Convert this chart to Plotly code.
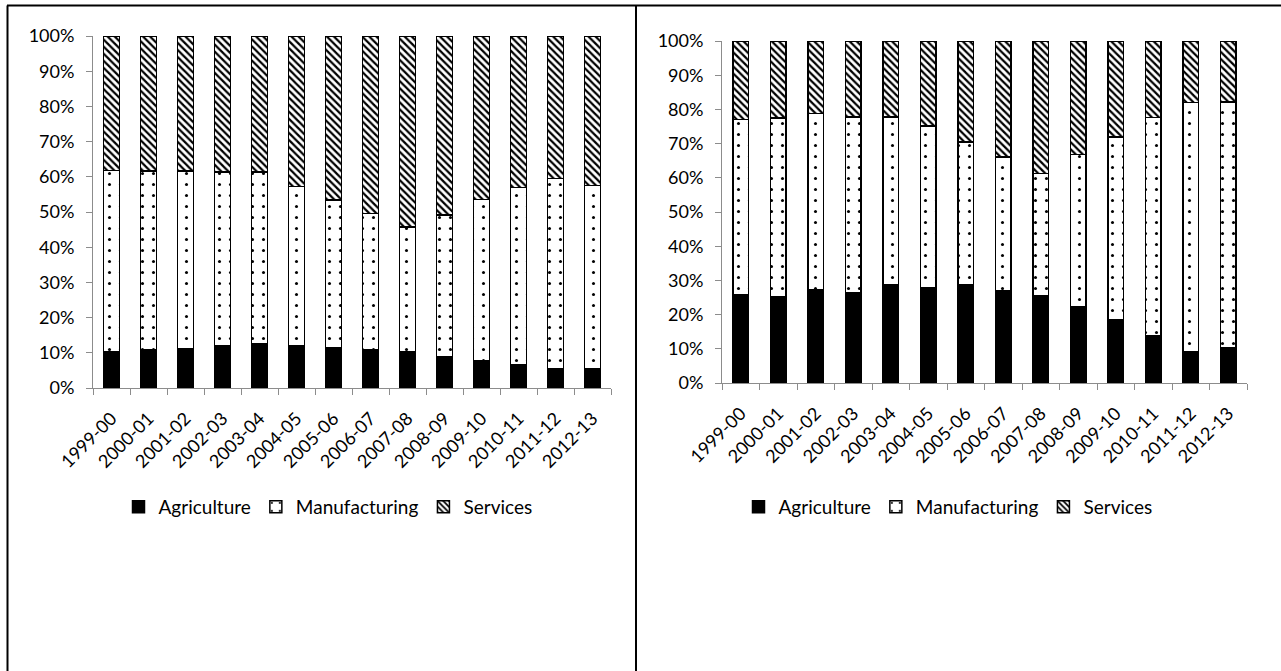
import plotly.graph_objects as go

W, H = 1281, 671

years = ["1999-00", "2000-01", "2001-02", "2002-03", "2003-04", "2004-05", "2005-06",
         "2006-07", "2007-08", "2008-09", "2009-10", "2010-11", "2011-12", "2012-13"]

# Sector shares (%) - left panel
agri_left = [10.3, 10.8, 11.2, 11.9, 12.5, 12.1, 11.5, 10.9, 10.3, 9.0, 7.8, 6.6, 5.4, 5.4]
manu_left = [51.5, 50.9, 50.5, 49.5, 48.9, 45.2, 41.9, 38.7, 35.5, 40.2, 45.7, 50.3, 54.1, 52.1]
serv_left = [38.2, 38.3, 38.3, 38.6, 38.6, 42.7, 46.6, 50.4, 54.2, 50.8, 46.5, 43.1, 40.5, 42.5]

# Sector shares (%) - right panel
agri_right = [25.7, 25.2, 27.4, 26.4, 28.6, 27.9, 28.6, 27.0, 25.4, 22.4, 18.4, 13.9, 9.2, 10.3]
manu_right = [51.4, 52.3, 51.4, 51.4, 49.2, 47.3, 41.8, 39.1, 35.9, 44.4, 53.5, 63.7, 72.8, 71.9]
serv_right = [22.9, 22.5, 21.2, 22.2, 22.2, 24.8, 29.6, 33.9, 38.7, 33.2, 28.1, 22.4, 18.0, 17.8]

sectors = ["Agriculture", "Manufacturing", "Services"]

FONT = "Lato"
AXIS_GREY = "#8c8c8c"

styles = {
    "Agriculture": dict(color="black", pattern=None),
    "Manufacturing": dict(color="white",
                          pattern=dict(shape=".", size=11, solidity=0.06,
                                       fgcolor="black", bgcolor="white", fillmode="replace")),
    "Services": dict(color="white",
                     pattern=dict(shape="\\", size=5, solidity=0.45,
                                  fgcolor="black", bgcolor="white", fillmode="replace")),
}

fig = go.Figure()

panels = [
    ("x", "y", "legend", [agri_left, manu_left, serv_left]),
    ("x2", "y2", "legend2", [agri_right, manu_right, serv_right]),
]

for xa, ya, lg, series in panels:
    for name, vals in zip(sectors, series):
        st = styles[name]
        marker = dict(color=st["color"], line=dict(color="black", width=1.5))
        if st["pattern"] is not None:
            marker["pattern"] = st["pattern"]
        fig.add_trace(go.Bar(
            x=years, y=vals, name=name, marker=marker,
            xaxis=xa, yaxis=ya, legend=lg, hoverinfo="skip",
        ))


def xaxis_style(x0, x1, anchor):
    return dict(
        domain=[x0 / W, x1 / W], anchor=anchor, type="category", automargin=False,
        showgrid=False, zeroline=False, showline=True, linecolor=AXIS_GREY, linewidth=1,
        ticks="outside", tickson="boundaries", ticklen=6, tickcolor=AXIS_GREY,
        tickangle=-45, tickfont=dict(family=FONT, size=18, color="black"),
        ticklabelstandoff=12, fixedrange=True,
    )


def yaxis_style(ybot, ytop, anchor):
    return dict(
        domain=[(H - ybot) / H, (H - ytop) / H], anchor=anchor, automargin=False,
        range=[0, 100], dtick=10, ticksuffix="%",
        showgrid=False, zeroline=False, showline=True, linecolor=AXIS_GREY, linewidth=1,
        ticks="outside", ticklen=6, tickcolor=AXIS_GREY,
        tickfont=dict(family=FONT, size=18, color="black"),
        ticklabelstandoff=8, fixedrange=True,
    )


legend_common = dict(
    orientation="h", xanchor="center", yanchor="middle",
    font=dict(family=FONT, size=19, color="black"),
    bgcolor="rgba(0,0,0,0)", itemwidth=30, traceorder="normal",
    itemclick=False, itemdoubleclick=False,
)

fig.update_layout(
    width=W, height=H,
    margin=dict(l=0, r=0, t=0, b=0, pad=0, autoexpand=False),
    paper_bgcolor="white", plot_bgcolor="white",
    barmode="stack", bargap=0.58,
    showlegend=True,
    font=dict(family=FONT, color="black"),
    xaxis=xaxis_style(93, 611, "y"),
    yaxis=yaxis_style(388, 36, "x"),
    xaxis2=xaxis_style(722, 1247, "y2"),
    yaxis2=yaxis_style(383, 41, "x2"),
    legend=dict(x=328 / W, y=(H - 507) / H, **legend_common),
    legend2=dict(x=948 / W, y=(H - 507) / H, **legend_common),
)

# Table cell borders around the two panels
border = dict(color="black", width=2)
fig.add_shape(type="line", xref="paper", yref="paper",
              x0=7 / W, x1=1.0, y0=(H - 5.5) / H, y1=(H - 5.5) / H, line=border)
fig.add_shape(type="line", xref="paper", yref="paper",
              x0=7.5 / W, x1=7.5 / W, y0=0, y1=(H - 5.5) / H, line=border)
fig.add_shape(type="line", xref="paper", yref="paper",
              x0=636 / W, x1=636 / W, y0=0, y1=(H - 5.5) / H, line=border)

fig.write_html("out.html")
